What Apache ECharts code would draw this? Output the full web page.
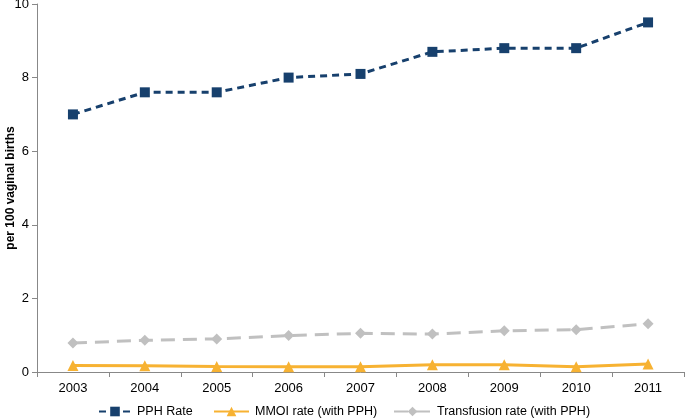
<!DOCTYPE html>
<html><head><meta charset="utf-8">
<script src="https://cdn.jsdelivr.net/npm/echarts@6/dist/echarts.min.js"></script>
<style>html,body{margin:0;padding:0;background:#fff}#c{width:685px;height:419px}</style>
</head><body><div id="c"></div>
<script>
const years = ['2003','2004','2005','2006','2007','2008','2009','2010','2011'];
const pphRate = [7.0, 7.6, 7.6, 8.0, 8.1, 8.7, 8.8, 8.8, 9.5];
const mmoiRate = [0.18, 0.17, 0.15, 0.14, 0.14, 0.2, 0.2, 0.14, 0.22];
const transfusionRate = [0.79, 0.86, 0.9, 0.99, 1.05, 1.03, 1.12, 1.15, 1.31];
const yTicks = [0, 2, 4, 6, 8, 10];
const seriesNames = ['PPH Rate', 'MMOI rate (with PPH)', 'Transfusion rate (with PPH)'];

const font = 'Liberation Sans, Arial, sans-serif';
const legendLefts = [98, 213, 393];
const legendWidths = [32, 35, 37];
const chart = echarts.init(document.getElementById('c'));
chart.setOption({
  animation: false,
  grid: {left: 37, right: 1, top: 4, bottom: 47, containLabel: false, outerBoundsMode: 'none'},
  legend: seriesNames.map((n, i) => ({
    data: [n], left: legendLefts[i], top: 405, padding: 0,
    itemWidth: legendWidths[i], itemHeight: 12, itemGap: 0,
    textStyle: {fontFamily: font, fontSize: 12.5, color: '#000', padding: [0, 0, 0, 1]}
  })),
  xAxis: {
    type: 'category', data: years, boundaryGap: true,
    axisLine: {lineStyle: {color: '#888', width: 1}},
    axisTick: {show: true, length: 5, lineStyle: {color: '#888'}},
    axisLabel: {fontFamily: font, fontSize: 13, color: '#000', margin: 10}
  },
  yAxis: {
    type: 'value', min: yTicks[0], max: yTicks[yTicks.length - 1], interval: 2,
    name: 'per 100 vaginal births', nameLocation: 'middle', nameGap: 20, nameRotate: 90,
    nameMoveOverlap: false,
    nameTextStyle: {fontFamily: font, fontSize: 12, fontWeight: 'bold', color: '#000'},
    axisLine: {show: true, lineStyle: {color: '#888', width: 1}},
    axisTick: {show: true, length: 5, lineStyle: {color: '#888'}},
    splitLine: {show: false},
    axisLabel: {fontFamily: font, fontSize: 13, color: '#000', margin: 8}
  },
  series: [
    {
      name: seriesNames[0], type: 'line', data: pphRate,
      symbol: 'rect', symbolSize: 10,
      itemStyle: {color: '#17406d'},
      lineStyle: {color: '#17406d', width: 3, type: [7, 5]}
    },
    {
      name: seriesNames[1], type: 'line', data: mmoiRate,
      symbol: 'triangle', symbolSize: 11,
      itemStyle: {color: '#f7b232'},
      lineStyle: {color: '#f7b232', width: 3, type: 'solid'}
    },
    {
      name: seriesNames[2], type: 'line', data: transfusionRate,
      symbol: 'diamond', symbolSize: 11,
      itemStyle: {color: '#c0c0c0'},
      lineStyle: {color: '#c0c0c0', width: 3, type: [14, 8]}
    }
  ]
});
</script></body></html>
